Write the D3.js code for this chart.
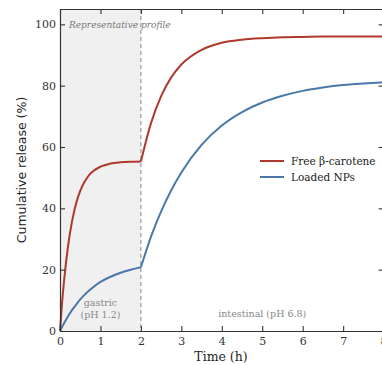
<!DOCTYPE html>
<html>
<head>
<meta charset="utf-8">
<script src="https://cdn.jsdelivr.net/npm/d3@7"></script>
<style>
  html, body { margin: 0; padding: 0; background: #fff; }
  svg { display: block; }
</style>
</head>
<body>
<svg id="chart" width="382" height="365"></svg>
<script>
// Sampling times (h) and cumulative release (%) for each formulation
const timeGastric = [0, 0.05, 0.1, 0.2, 0.3, 0.4, 0.5, 0.6, 0.75, 1.0, 1.25, 1.5, 1.75, 2.0];
const freeGastric = [0, 9.0, 16.3, 27.8, 35.9, 41.7, 45.7, 48.5, 51.3, 53.6, 54.6, 55.0, 55.2, 55.3];
const npGastric   = [0, 1.3, 2.5, 4.8, 6.9, 8.6, 10.3, 11.7, 13.5, 16.0, 17.7, 19.0, 20.0, 20.8];

const timeIntestinal = [2.0, 2.25, 2.5, 2.75, 3.0, 3.5, 4.0, 4.5, 5.0, 5.5, 6.0, 6.5, 7.0, 7.5, 8.0];
const freeIntestinal = [55.3, 67.8, 76.6, 82.7, 86.9, 91.7, 94.0, 95.0, 95.5, 95.8, 95.9, 96.0, 96.0, 96.0, 96.0];
const npIntestinal   = [20.8, 30.8, 39.0, 45.9, 51.7, 60.7, 67.0, 71.4, 74.5, 76.7, 78.3, 79.4, 80.2, 80.7, 81.1];

const xTicks = [0, 1, 2, 3, 4, 5, 6, 7, 8];
const yTicks = [0, 20, 40, 60, 80, 100];

const seriesNames  = ["Free β-carotene", "Loaded NPs"];
const seriesColors = ["#b0392d", "#4a78a8"];

const svg = d3.select("#chart");
const m = { left: 60, top: 9, right: 383.6, bottom: 331 };

const x = d3.scaleLinear().domain([0, 8]).range([m.left, m.right]);
const y = d3.scaleLinear().domain([0, 105]).range([m.bottom, m.top]);

const serif = "'DejaVu Serif', serif";

// gastric phase shading
svg.append("rect")
  .attr("x", x(0)).attr("y", y(105))
  .attr("width", x(2) - x(0)).attr("height", y(0) - y(105))
  .attr("fill", "#f0f0f0");

// phase boundary
svg.append("line")
  .attr("x1", x(2)).attr("x2", x(2))
  .attr("y1", y(105)).attr("y2", y(0))
  .attr("stroke", "#888").attr("stroke-width", 1)
  .attr("stroke-dasharray", "4,3");

// curves
const line = d3.line()
  .x(d => x(d[0])).y(d => y(d[1]))
  .curve(d3.curveMonotoneX);

const series = [
  [timeGastric.map((t, i) => [t, freeGastric[i]]), timeIntestinal.map((t, i) => [t, freeIntestinal[i]])],
  [timeGastric.map((t, i) => [t, npGastric[i]]),   timeIntestinal.map((t, i) => [t, npIntestinal[i]])]
];

series.forEach((segs, si) => {
  segs.forEach(seg => {
    svg.append("path")
      .datum(seg)
      .attr("d", line)
      .attr("fill", "none")
      .attr("stroke", seriesColors[si])
      .attr("stroke-width", 2)
      .attr("stroke-linejoin", "round");
  });
});

// axes with inward ticks on all four sides
function styleAxis(g) {
  g.select(".domain").attr("stroke", "#333").attr("stroke-width", 1.2);
  g.selectAll(".tick line").attr("stroke", "#333").attr("stroke-width", 1.1);
  g.selectAll(".tick text")
    .attr("fill", "#333")
    .style("font-family", serif)
    .style("font-size", "11px");
}

const gx = svg.append("g")
  .attr("transform", `translate(0,${m.bottom})`)
  .call(d3.axisBottom(x).tickValues(xTicks).tickFormat(d3.format("d"))
    .tickSizeInner(-5).tickSizeOuter(0).tickPadding(4));
styleAxis(gx);
gx.selectAll(".tick text").attr("dy", "0.9em");

const gy = svg.append("g")
  .attr("transform", `translate(${m.left},0)`)
  .call(d3.axisLeft(y).tickValues(yTicks).tickFormat(d3.format("d"))
    .tickSizeInner(-5).tickSizeOuter(0).tickPadding(4));
styleAxis(gy);

const gt = svg.append("g")
  .attr("transform", `translate(0,${m.top})`)
  .call(d3.axisTop(x).tickValues(xTicks).tickFormat("")
    .tickSizeInner(-5).tickSizeOuter(0));
styleAxis(gt);

const gr = svg.append("g")
  .attr("transform", `translate(${m.right},0)`)
  .call(d3.axisRight(y).tickValues(yTicks).tickFormat("")
    .tickSizeInner(-5).tickSizeOuter(0));
styleAxis(gr);

// axis titles
svg.append("text")
  .attr("x", (m.left + 382) / 2).attr("y", 361)
  .attr("text-anchor", "middle")
  .style("font-family", serif).style("font-size", "12.5px")
  .attr("fill", "#222")
  .text("Time (h)");

svg.append("text")
  .attr("transform", `translate(26,${(m.top + m.bottom) / 2}) rotate(-90)`)
  .attr("text-anchor", "middle")
  .style("font-family", "'DejaVu Sans', sans-serif").style("font-size", "12.5px")
  .attr("fill", "#222")
  .text("Cumulative release (%)");

// annotations
svg.append("text")
  .attr("x", x(0) + 9).attr("y", y(100) + 3.5)
  .style("font-family", serif).style("font-size", "9px").style("font-style", "italic")
  .attr("fill", "#777")
  .text("Representative profile");

const phaseLabels = svg.append("g")
  .style("font-family", serif).style("font-size", "9.5px")
  .attr("fill", "#888").attr("text-anchor", "middle");
phaseLabels.append("text").attr("x", x(1)).attr("y", 306).text("gastric");
phaseLabels.append("text").attr("x", x(1)).attr("y", 318).text("(pH 1.2)");
phaseLabels.append("text").attr("x", x(5)).attr("y", 317).text("intestinal (pH 6.8)");

// legend
const legend = svg.append("g").attr("transform", "translate(260,161)");
seriesNames.forEach((name, i) => {
  const row = legend.append("g").attr("transform", `translate(0,${i * 16})`);
  row.append("line")
    .attr("x1", 0).attr("x2", 24).attr("y1", 0).attr("y2", 0)
    .attr("stroke", seriesColors[i]).attr("stroke-width", 2);
  row.append("text")
    .attr("x", 31).attr("y", 4)
    .style("font-family", serif).style("font-size", "10.5px")
    .attr("fill", "#222")
    .text(name);
});
</script>
</body>
</html>
